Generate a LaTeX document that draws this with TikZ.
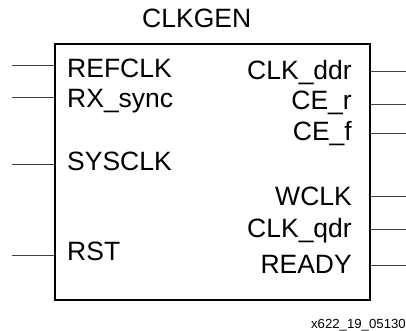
\documentclass[tikz,border=0pt]{standalone}
\usepackage{fontspec}
\setmainfont{Liberation Sans}
\begin{document}
\begin{tikzpicture}[x=1pt,y=-1pt,
  pin/.style={draw=black!75,line width=0.9pt},
  lbl/.style={inner sep=0pt,font=\fontsize{26.5}{29}\selectfont},
  inlbl/.style={lbl,anchor=base west},
  outlbl/.style={lbl,anchor=base east}]
\useasboundingbox (0,0) rectangle (406,331);
\node[draw,line width=2pt,minimum width=315pt,minimum height=255pt,inner sep=0pt,anchor=north west] (box) at (53.5,43.5) {};
\node[lbl,anchor=base] (title) at (196.7,28) {CLKGEN};
% inputs
\node[inlbl] (refclk) at (67,77.3) {REFCLK};
\node[inlbl] (rxsync) at (67,107.3) {RX\_sync};
\node[inlbl] (sysclk) at (67,170) {SYSCLK};
\node[inlbl] (rst) at (67,260.7) {RST};
\coordinate (i1) at (12,65.7);
\coordinate (i2) at (12,97.7);
\coordinate (i3) at (12,164.3);
\coordinate (i4) at (12,255.7);
\foreach \c in {i1,i2,i3,i4} \draw[pin] (\c) -- (\c -| box.west);
% outputs
\node[outlbl] (clkddr) at (352,79.3) {CLK\_ddr};
\node[outlbl] (cer) at (352,110) {CE\_r};
\node[outlbl] (cef) at (352,140) {CE\_f};
\node[outlbl] (wclk) at (352,205) {WCLK};
\node[outlbl] (clkqdr) at (352,237.3) {CLK\_qdr};
\node[outlbl] (ready) at (352,273.3) {READY};
\coordinate (o1) at (406,71);
\coordinate (o2) at (406,104.3);
\coordinate (o3) at (406,133.3);
\coordinate (o4) at (406,196.7);
\coordinate (o5) at (406,229.3);
\coordinate (o6) at (406,265);
\foreach \c in {o1,o2,o3,o4,o5,o6} \draw[pin] (\c -| box.east) -- (\c);
\node[inner sep=0pt,anchor=base east,font=\fontsize{13.2}{15}\selectfont] (fig) at (406,328) {x622\_19\_05130};
\end{tikzpicture}
\end{document}
